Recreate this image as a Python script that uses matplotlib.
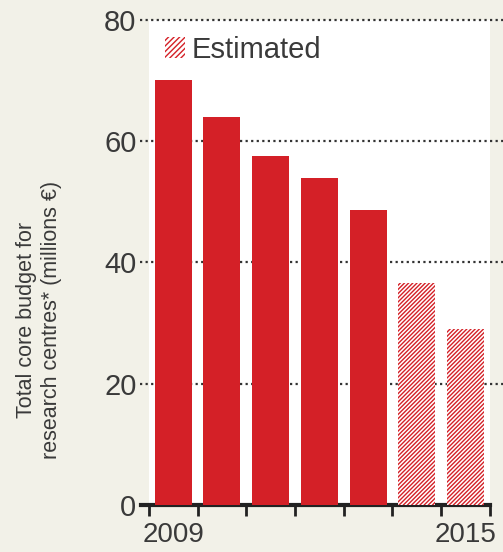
import matplotlib.pyplot as plt
import numpy as np
from matplotlib.patches import Patch

plt.rcParams['font.family'] = ['Liberation Sans', 'DejaVu Sans']
plt.rcParams['hatch.linewidth'] = 1.0

# data
years = ['2009', '2010', '2011', '2012', '2013', '2014', '2015']
budget = [70.1, 64.0, 57.6, 54.0, 48.7, 36.6, 29.0]
estimated = [False, False, False, False, False, True, True]
shown_labels = ['2009', '', '', '', '', '', '2015']

red = '#d42027'
beige = '#f2f1e8'
txt = '#3a3a3a'

fig = plt.figure(figsize=(5.03, 5.52), dpi=100, facecolor=beige)
ax = fig.add_axes([0.296, 0.085, 0.678, 0.879])
ax.set_facecolor('white')

x = np.arange(len(years))
for xi, val, est in zip(x, budget, estimated):
    if est:
        ax.bar(xi, val, width=0.76, color='white', edgecolor=red, hatch='////////',
               linewidth=0, zorder=3)
    else:
        ax.bar(xi, val, width=0.76, color=red, linewidth=0, zorder=3)

ax.set_xlim(-0.5, len(years) - 0.5)
ax.set_ylim(0, 80)

# dotted grid lines reaching past the white panel
for yv in [20, 40, 60, 80]:
    ax.plot([-0.025, 1.04], [yv, yv], transform=ax.get_yaxis_transform(),
            color='#333333', linestyle=(0, (1, 1.5)), linewidth=1.6,
            clip_on=False, zorder=1)

ax.set_yticks([0, 20, 40, 60, 80])
ax.tick_params(axis='y', length=0, pad=9, labelsize=21, labelcolor=txt)

ax.set_xticks(x)
ax.set_xticklabels(shown_labels)
ax.set_xticks(np.arange(-0.5, len(years)), minor=True)
ax.tick_params(axis='x', which='major', length=0, pad=12, labelsize=20, labelcolor=txt)
ax.tick_params(axis='x', which='minor', length=8, width=2, color='#222222', direction='out')

for s in ['top', 'right', 'left']:
    ax.spines[s].set_visible(False)
ax.spines['bottom'].set_linewidth(3)
ax.spines['bottom'].set_color('#222222')
ax.spines['bottom'].set_bounds(-0.67, len(years) - 0.5)

leg = ax.legend(handles=[Patch(facecolor='white', edgecolor=red, hatch='//////', linewidth=0)],
                labels=['Estimated'], loc='upper left', frameon=False, fontsize=21,
                handlelength=0.7, handleheight=0.7, handletextpad=0.2,
                borderaxespad=0.15, labelcolor=txt)

fig.text(0.077, 0.42, 'Total core budget for\nresearch centres* (millions \u20ac)',
         rotation=90, ha='center', va='center', multialignment='center',
         fontsize=15.5, color=txt, linespacing=1.25)

fig.savefig('out.png', dpi=100, facecolor=beige)
